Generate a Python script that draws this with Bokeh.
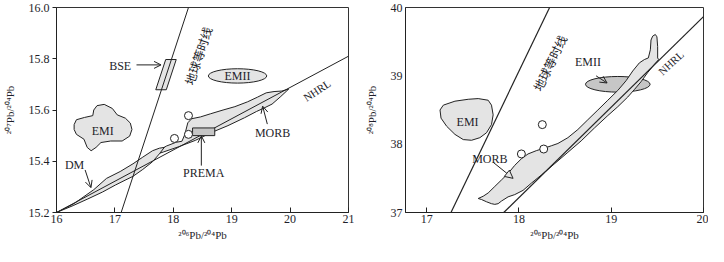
from bokeh.plotting import figure
from bokeh.layouts import row
from bokeh.models import Range1d, FixedTicker, PrintfTickFormatter, Arrow, OpenHead, NormalHead
from bokeh.core.properties import value
from bokeh.embed import file_html
from bokeh.resources import INLINE

SERIF = "Liberation Serif"
CJK = "Noto Sans CJK SC"
TXT = "#1e1e2a"
LIGHT = "#e4e4e4"
DARK = "#c6c6c6"

# ---------------- data: left panel (207Pb/204Pb vs 206Pb/204Pb) ----------------
L_xticks = [16, 17, 18, 19, 20, 21]
L_yticks = [15.2, 15.4, 15.6, 15.8, 16.0]

L_geochron_x = [17.107, 18.26]
L_geochron_y = [15.2, 16.0]
L_nhrl_x = [16.0, 21.0]
L_nhrl_y = [15.2, 15.81]

L_dm_x = [16.000, 16.302, 16.638, 16.856, 17.091, 17.309, 17.477, 17.644, 17.762, 17.846,
          17.762, 17.644, 17.477, 17.309, 17.174, 17.007, 16.789, 16.537, 16.285]
L_dm_y = [15.200, 15.235, 15.289, 15.333, 15.360, 15.390, 15.416, 15.441, 15.451, 15.454,
          15.429, 15.398, 15.368, 15.341, 15.326, 15.307, 15.280, 15.253, 15.227]

L_morb_x = [17.544, 17.711, 17.879, 18.047, 18.148, 18.198, 18.248, 18.315, 18.466, 18.634,
            18.852, 19.054, 19.272, 19.440, 19.591, 19.725, 19.859, 19.977,
            19.842, 19.691, 19.557, 19.423, 19.221, 18.936, 18.651, 18.383, 18.097, 17.829, 17.628]
L_morb_y = [15.417, 15.436, 15.459, 15.474, 15.478, 15.505, 15.550, 15.566, 15.573, 15.585,
            15.600, 15.613, 15.632, 15.650, 15.667, 15.672, 15.674, 15.682,
            15.653, 15.623, 15.608, 15.594, 15.570, 15.539, 15.512, 15.482, 15.457, 15.436, 15.421]

L_emi_x = [16.302, 16.341, 16.481, 16.621, 16.638, 16.694, 16.817, 16.956, 17.040, 17.180, 17.264,
           17.292, 17.253, 17.124, 16.928, 16.761, 16.677, 16.593, 16.526, 16.470, 16.341, 16.302]
L_emi_y = [15.543, 15.562, 15.571, 15.578, 15.600, 15.617, 15.622, 15.606, 15.581, 15.568, 15.549,
           15.524, 15.498, 15.479, 15.479, 15.473, 15.454, 15.441, 15.454, 15.486, 15.505, 15.524]

L_emii_center = (19.10, 15.733)
L_emii_size = (1.0, 0.056)

L_bse_x = [17.70, 17.88, 18.05, 17.87]
L_bse_y = [15.679, 15.679, 15.797, 15.797]

L_prema_x = [18.33, 18.71, 18.71, 18.33]
L_prema_y = [15.50, 15.50, 15.53, 15.53]

L_samples_x = [18.02, 18.26, 18.26]
L_samples_y = [15.489, 15.578, 15.505]

# ---------------- data: right panel (208Pb/204Pb vs 206Pb/204Pb) ----------------
R_xticks = [17, 18, 19, 20]
R_yticks = [37, 38, 39, 40]

R_geochron_x = [17.263, 18.332]
R_geochron_y = [37.0, 40.0]
R_nhrl_x = [17.835, 20.0]
R_nhrl_y = [37.0, 39.867]

R_morb_x = [17.558, 17.612, 17.666, 17.738, 17.810, 17.882, 17.954, 18.026, 18.098, 18.188,
            18.278, 18.350, 18.422, 18.530, 18.638, 18.746, 18.855, 18.963, 19.071, 19.161,
            19.233, 19.305, 19.359, 19.402, 19.424, 19.431, 19.449, 19.478, 19.495, 19.503,
            19.503, 19.514,
            19.467, 19.395, 19.323, 19.251, 19.179, 19.071, 18.963, 18.819, 18.674, 18.530,
            18.386, 18.242, 18.134, 18.044, 17.954, 17.882, 17.810, 17.774, 17.738, 17.702,
            17.648, 17.594]
R_morb_y = [37.205, 37.238, 37.286, 37.381, 37.476, 37.571, 37.690, 37.786, 37.857, 37.905,
            37.943, 37.976, 38.010, 38.095, 38.214, 38.357, 38.500, 38.643, 38.786, 38.929,
            39.071, 39.190, 39.238, 39.262, 39.381, 39.524, 39.581, 39.605, 39.571, 39.429,
            39.262, 39.238,
            39.167, 39.048, 38.914, 38.800, 38.690, 38.548, 38.419, 38.238, 38.048, 37.881,
            37.714, 37.548, 37.429, 37.324, 37.262, 37.229, 37.167, 37.129, 37.119, 37.129,
            37.157, 37.190]

R_emi_x = [17.144, 17.180, 17.306, 17.450, 17.558, 17.666, 17.702, 17.720, 17.702, 17.648,
           17.576, 17.486, 17.396, 17.306, 17.216, 17.155]
R_emi_y = [38.500, 38.571, 38.629, 38.657, 38.667, 38.643, 38.571, 38.429, 38.286, 38.167,
           38.095, 38.057, 38.067, 38.143, 38.262, 38.381]

R_emii_center = (19.071, 38.876)
R_emii_size = (0.70, 0.229)

R_samples_x = [18.026, 18.253, 18.268]
R_samples_y = [37.857, 38.286, 37.929]


def style(p, xticks, yticks, yfmt, ylabel, ytick_out):
    p.xgrid.visible = False
    p.ygrid.visible = False
    p.outline_line_color = "#333333"
    p.outline_line_width = 1
    p.background_fill_color = "white"
    p.border_fill_color = "white"
    for ax in (p.xaxis[0], p.yaxis[0]):
        ax.axis_line_color = "#222222"
        ax.major_tick_line_color = "#222222"
        ax.minor_tick_line_color = None
        ax.major_label_text_font = SERIF
        ax.major_label_text_font_size = "12px"
        ax.major_label_text_color = TXT
        ax.axis_label_text_font = SERIF
        ax.axis_label_text_font_size = "11px"
        ax.axis_label_text_font_style = "normal"
        ax.axis_label_text_color = TXT
    p.xaxis.ticker = FixedTicker(ticks=xticks)
    p.yaxis.ticker = FixedTicker(ticks=yticks)
    p.yaxis.formatter = PrintfTickFormatter(format=yfmt)
    p.xaxis.major_tick_in = 5
    p.xaxis.major_tick_out = 0
    p.yaxis.major_tick_in = 0
    p.yaxis.major_tick_out = ytick_out
    p.xaxis.major_label_standoff = 2
    p.yaxis.major_label_standoff = 3
    p.xaxis.axis_label = "²⁰⁶Pb/²⁰⁴Pb"
    p.xaxis.axis_label_standoff = 3
    p.yaxis.axis_label = ylabel
    p.yaxis.axis_label_standoff = 10


def label(p, x, y, t, size="12px", angle=0.0, font=SERIF, align="center"):
    p.text(x=[x], y=[y], text=[t], text_font=value(font), text_font_size=size,
           text_color=TXT, text_align=align, text_baseline="middle", angle=angle)


def arrow(p, x0, y0, x1, y1, head=None):
    if head is None:
        head = OpenHead(size=7, line_width=1, line_color="#222222")
    p.add_layout(Arrow(end=head, x_start=x0, y_start=y0, x_end=x1, y_end=y1,
                       line_width=1, line_color="#222222"))


# ---------------- left figure ----------------
pl = figure(width=354, height=246, output_backend="svg", toolbar_location=None,
            x_range=Range1d(16, 21), y_range=Range1d(15.2, 16.0),
            min_border_left=50, min_border_right=6, min_border_top=7, min_border_bottom=34)
style(pl, L_xticks, L_yticks, "%.1f", "²⁰⁷Pb/²⁰⁴Pb", 4)

pl.patch(L_emi_x, L_emi_y, fill_color=LIGHT, line_color="#222222", line_width=1)
pl.ellipse(x=[L_emii_center[0]], y=[L_emii_center[1]], width=L_emii_size[0], height=L_emii_size[1],
           fill_color=LIGHT, line_color="#222222", line_width=1)
pl.patch(L_morb_x, L_morb_y, fill_color=LIGHT, line_color="#222222", line_width=1)
pl.patch(L_dm_x, L_dm_y, fill_color=LIGHT, line_color="#222222", line_width=1)
pl.patch(L_bse_x, L_bse_y, fill_color=LIGHT, line_color="#222222", line_width=1)
pl.line(L_geochron_x, L_geochron_y, line_color="#222222", line_width=1)
pl.line(L_nhrl_x, L_nhrl_y, line_color="#222222", line_width=1)
pl.patch(L_prema_x, L_prema_y, fill_color=DARK, line_color="#222222", line_width=1)
pl.scatter(L_samples_x, L_samples_y, marker="circle", size=8, fill_color="white",
           line_color="#222222", line_width=1)

label(pl, 16.79, 15.517, "EMI")
label(pl, 19.10, 15.733, "EMII")
label(pl, 17.09, 15.772, "BSE")
arrow(pl, 17.37, 15.776, 17.79, 15.776)
label(pl, 16.31, 15.386, "DM")
arrow(pl, 16.49, 15.366, 16.59, 15.297)
label(pl, 18.52, 15.355, "PREMA")
arrow(pl, 18.48, 15.383, 18.48, 15.499)
label(pl, 19.70, 15.511, "MORB")
arrow(pl, 19.61, 15.545, 19.53, 15.615)
label(pl, 20.46, 15.676, "NHRL", size="11px", angle=0.58)
label(pl, 18.42, 15.812, "地球等时线", size="12px", angle=1.25, font=CJK)

# ---------------- right figure ----------------
pr = figure(width=354, height=246, output_backend="svg", toolbar_location=None,
            x_range=Range1d(16.77, 20.0), y_range=Range1d(37.0, 40.0),
            min_border_left=51, min_border_right=5, min_border_top=7, min_border_bottom=34)
style(pr, R_xticks, R_yticks, "%d", "²⁰⁸Pb/²⁰⁴Pb", 0)

pr.patch(R_emi_x, R_emi_y, fill_color=LIGHT, line_color="#222222", line_width=1)
pr.ellipse(x=[R_emii_center[0]], y=[R_emii_center[1]], width=R_emii_size[0], height=R_emii_size[1],
           fill_color=DARK, line_color="#222222", line_width=1)
pr.patch(R_morb_x, R_morb_y, fill_color=LIGHT, line_color="#222222", line_width=1)
pr.line(R_geochron_x, R_geochron_y, line_color="#222222", line_width=1.2)
pr.line(R_nhrl_x, R_nhrl_y, line_color="#222222", line_width=1.2)
pr.scatter(R_samples_x, R_samples_y, marker="circle", size=8, fill_color="white",
           line_color="#222222", line_width=1)

label(pr, 17.443, 38.319, "EMI")
label(pr, 18.747, 39.20, "EMII")
arrow(pr, 18.836, 39.0, 18.955, 38.895)
label(pr, 17.684, 37.776, "MORB")
arrow(pr, 17.72, 37.735, 17.936, 37.50,
      head=NormalHead(size=8, line_width=1, line_color="#222222", fill_color=LIGHT))
label(pr, 19.647, 39.19, "NHRL", size="11px", angle=0.75)
label(pr, 18.33, 39.19, "地球等时线", size="12px", angle=1.12, font=CJK)

layout = row(pl, pr)
open("out.html", "w").write(file_html(layout, INLINE))
